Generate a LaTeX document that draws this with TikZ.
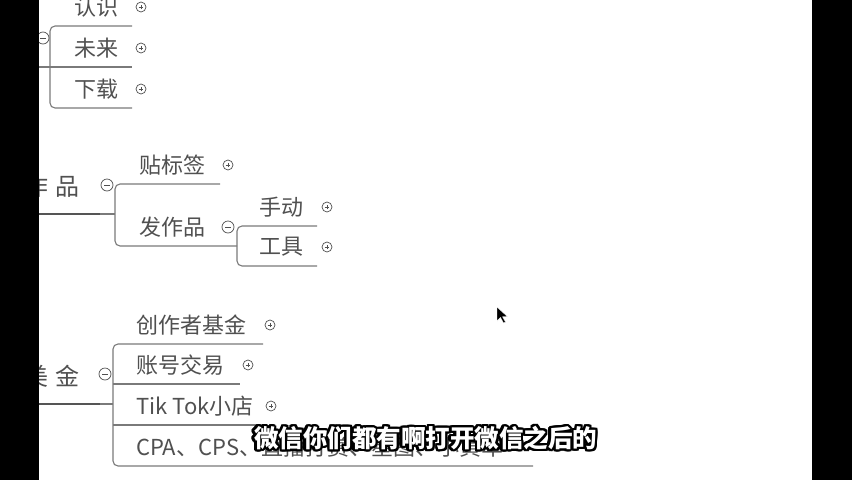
\documentclass[tikz,border=0pt]{standalone}
\usepackage{fontspec}
\setmainfont{Noto Sans CJK SC}
\usetikzlibrary{calc}

\definecolor{inkgray}{HTML}{505050}
\definecolor{rulegray}{HTML}{7A7A7A}
\definecolor{markgray}{HTML}{505050}

\tikzset{
  topic/.style={anchor=west, inner sep=0pt, text=inkgray, font=\fontsize{22}{22}\selectfont},
  root/.style={anchor=east, inner sep=0pt, text=inkgray, font=\fontsize{24}{24}\selectfont},
  branch/.style={draw=rulegray, line width=1.1pt, rounded corners=5pt},
  trunk/.style={draw=rulegray!70!black, line width=2.4pt},
  expand/.style={circle, draw=markgray, line width=0.7pt, minimum size=10pt, inner sep=0pt,
    path picture={\draw[markgray, line width=0.7pt]
      ([xshift=-2.4pt]path picture bounding box.center) -- ([xshift=2.4pt]path picture bounding box.center)
      ([yshift=-2.4pt]path picture bounding box.center) -- ([yshift=2.4pt]path picture bounding box.center);}},
  collapse/.style={circle, draw=markgray, line width=0.7pt, minimum size=12pt, inner sep=0pt, fill=white,
    path picture={\draw[markgray, line width=0.7pt]
      ([xshift=-3pt]path picture bounding box.center) -- ([xshift=3pt]path picture bounding box.center);}},
  subcap/.style={inner sep=0pt, font=\bfseries\fontsize{24.5}{24.5}\selectfont},
}

\begin{document}
\begin{tikzpicture}[x=1pt, y=-1pt]
  \useasboundingbox (0,0) rectangle (852,480);
  \fill[white] (0,0) rectangle (852,480);

  % Top branch (its root sits behind the bar)
  \coordinate (rootA) at (20,67);
  \coordinate (brA) at (50,67);
  \foreach \n/\t/\y in {renshi/认识/7, weilai/未来/48, xiazai/下载/89} {
    \node[topic] (\n) at (74,\y) {\t};
    \node[expand] (\n-x) at (141,\y) {};
    \coordinate (\n-u) at (132,\y+19);
  }
  \draw[branch] (rootA) -- (weilai-u);
  \draw[branch] (renshi-u) -| (brA) |- (xiazai-u);
  \node[collapse] (brA-c) at (43,38) {};

  % Middle branch
  \node[root] (zuopin) at (80,186) {作\kern7pt品};
  \coordinate (rootB) at (20,214);
  \coordinate (rootB-e) at (100,214);
  \coordinate (brB) at (115,214);
  \node[topic] (tiebiaoqian) at (139,165) {贴标签};
  \node[expand] (tiebiaoqian-x) at (228,165) {};
  \coordinate (tiebiaoqian-u) at (220,184);
  \node[topic] (fazuopin) at (139,227) {发作品};
  \coordinate (brD) at (237,246);
  \draw[trunk] (rootB) -- (rootB-e);
  \draw[branch] (rootB-e) -- (brB);
  \draw[branch] (tiebiaoqian-u) -| (brB) |- (brD);
  \node[collapse] (brB-c) at (107,185) {};

  % second level under 发作品
  \foreach \n/\t/\y in {shoudong/手动/207, gongju/工具/247} {
    \node[topic] (\n) at (259,\y) {\t};
    \node[expand] (\n-x) at (327,\y) {};
    \coordinate (\n-u) at (317,\y+19);
  }
  \draw[branch] (shoudong-u) -| (brD) |- (gongju-u);
  \node[collapse] (brD-c) at (228,227) {};

  % Bottom branch
  \node[root] (meijin) at (80,376) {美\kern7pt金};
  \coordinate (rootC) at (20,404);
  \coordinate (rootC-e) at (100,404);
  \coordinate (brC) at (113,404);
  \foreach \n/\t/\y/\px/\ux in {chuangzuo/创作者基金/325/270/263, zhanghao/账号交易/365/248/240,
                                tiktok/Tik Tok小店/406/271/263} {
    \node[topic] (\n) at (136,\y) {\t};
    \node[expand] (\n-x) at (\px,\y) {};
    \coordinate (\n-u) at (\ux,\y+19);
  }
  \node[topic] (cpa) at (136,447) {CPA、CPS、直播打赏、星图、小黄车};
  \coordinate (cpa-u) at (533,466);
  \draw[trunk] (rootC) -- (rootC-e);
  \draw[branch] (rootC-e) -- (brC);
  \draw[branch] (chuangzuo-u) -| (brC) |- (cpa-u);
  \draw[branch] (brC |- zhanghao-u) -- (zhanghao-u);
  \draw[branch] (brC |- tiktok-u) -- (tiktok-u);
  \node[collapse] (brC-c) at (105,374) {};

  % Mouse pointer
  \filldraw[black, draw=white, line width=0.4pt] (497,307) -- ++(0,14) -- ++(3.5,-3.5)
    -- ++(3,5.5) -- ++(2,-1) -- ++(-3,-5.3) -- ++(5,0) -- cycle;

  % Subtitle, white with a black rim
  \coordinate (sub) at (425.5,438);
  \foreach \a in {0,22.5,...,337.5}
    \node[subcap, text=black, shift={(\a:2.4)}] (sub-\a) at (sub) {微信你们都有啊打开微信之后的};
  \node[subcap, text=white] (subtitle) at (sub) {微信你们都有啊打开微信之后的};

  % Side bars
  \fill[black] (0,0) rectangle (39,480);
  \fill[black] (812,0) rectangle (852,480);
\end{tikzpicture}
\end{document}
